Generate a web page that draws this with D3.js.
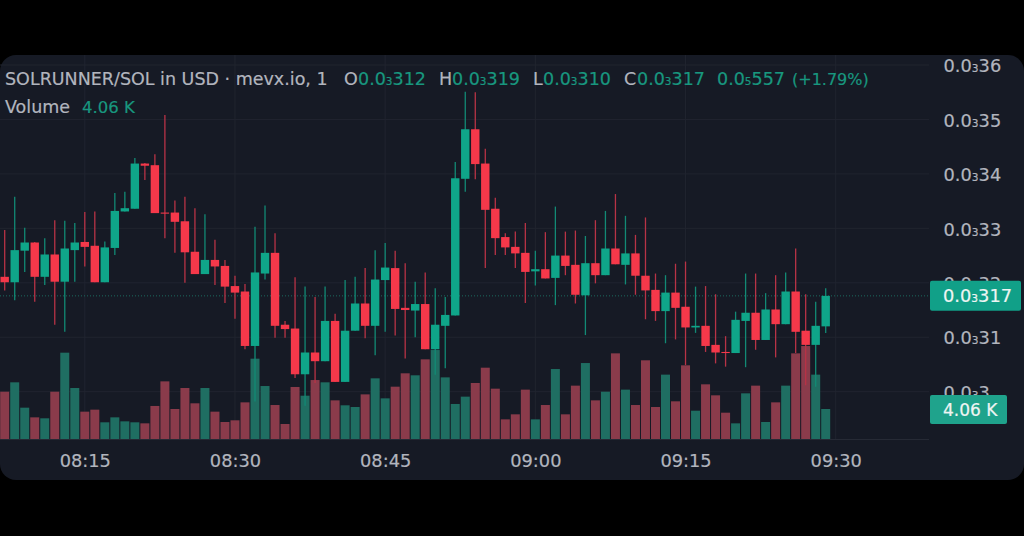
<!DOCTYPE html>
<html>
<head>
<meta charset="utf-8">
<script src="https://cdn.jsdelivr.net/npm/d3@7"></script>
<style>
  html, body { margin: 0; padding: 0; background: #000; }
  svg { display: block; }
  text { font-family: "DejaVu Sans", sans-serif; stroke: currentColor; stroke-width: 0.2px; }
</style>
</head>
<body>
<svg id="chart" width="1024" height="536"></svg>
<script>
// prices are in units of 0.0(3)xxx, so 317 reads 0.0₃317
var firstMinute = "08:07";
var opens = [321.1,320.1,325.9,327.4,321.1,325.2,320.2,326.0,327.5,326.8,320.1,326.4,333.1,333.6,341.9,341.6,332.9,332.9,331.3,325.7,321.6,324.2,323.1,319.4,318.4,308.4,321.7,325.5,312.3,311.6,303.2,307.2,305.6,313.0,301.8,311.2,316.2,312.1,320.5,322.7,315.4,314.9,316.1,307.8,312.1,314.0,339.1,348.2,341.9,333.6,328.4,326.6,325.5,322.1,322.5,320.9,325.0,323.3,317.7,323.6,321.4,326.3,323.3,325.4,321.3,318.7,314.8,318.2,315.6,311.8,312.1,308.6,307.3,307.1,313.0,314.5,309.5,315.1,312.4,318.4,311.2,308.6,312.0];
var highs = [329.7,335.8,330.1,327.5,328.2,331.5,331.4,331.0,333.0,333.1,327.6,336.5,336.7,342.9,342.0,343.6,350.8,335.1,335.8,333.7,332.6,327.9,324.2,321.3,319.8,330.3,334.2,329.1,313.0,321.0,319.3,317.4,319.3,314.3,320.5,321.1,322.7,326.0,327.3,325.9,323.6,320.2,321.9,319.0,317.4,342.2,355.1,355.0,344.6,335.6,329.1,329.4,331.0,325.9,329.3,334.0,329.4,329.6,328.6,331.5,333.2,336.3,332.3,328.8,332.0,321.7,321.4,323.5,323.9,319.3,319.4,317.9,310.2,314.7,321.7,321.7,318.1,321.4,321.9,326.3,317.9,316.5,319.0];
var lows = [318.6,316.8,322.0,316.5,319.6,312.3,311.0,320.2,323.0,320.1,320.1,325.1,333.1,333.6,338.9,332.8,328.2,325.5,320.0,321.6,321.6,319.6,316.3,313.4,307.8,298.2,320.6,309.9,309.9,302.5,297.4,301.6,305.6,301.8,301.8,311.2,309.8,306.7,311.0,310.3,306.1,310.0,307.8,303.1,304.3,314.0,336.7,339.0,322.7,325.1,325.1,322.7,316.3,319.5,320.8,315.9,321.4,316.2,310.4,319.9,321.4,323.4,319.7,317.8,313.3,313.0,308.9,309.6,304.9,310.8,307.3,305.2,304.6,307.1,304.5,307.7,309.5,306.3,312.4,307.1,301.2,300.9,310.8];
var closes = [320.1,326.0,327.4,321.1,325.2,320.2,326.3,327.4,326.6,320.1,326.5,333.2,333.7,341.9,341.5,332.8,332.7,331.2,325.6,321.6,324.2,323.0,319.3,318.2,308.4,321.9,325.5,312.1,311.5,303.2,307.2,305.6,313.0,301.8,311.2,316.2,312.1,320.6,322.8,315.2,315.0,316.1,307.8,312.3,314.1,339.2,348.2,341.8,333.4,328.2,326.5,325.4,322.0,322.5,320.8,325.0,323.1,317.8,323.6,321.4,326.3,323.4,325.4,321.3,318.6,314.8,318.2,315.4,311.8,312.1,308.4,307.2,307.1,313.2,314.5,309.5,315.1,312.4,318.4,311.0,308.6,312.1,317.6];
// volume in thousands
var volumes = [6.40,7.67,4.24,2.93,2.80,6.40,11.68,6.90,3.70,3.97,2.26,2.93,2.39,2.26,2.12,4.47,7.80,4.06,6.90,4.83,6.90,3.70,2.30,2.53,4.96,10.87,7.17,4.60,2.03,7.04,5.86,7.98,7.67,5.23,4.56,4.33,6.04,8.21,5.50,7.08,8.89,8.62,10.78,12.04,8.34,4.74,5.73,7.58,9.65,6.81,2.66,3.34,6.68,2.66,4.60,9.47,3.34,7.22,10.28,5.23,6.40,11.59,6.68,4.60,10.65,4.33,8.71,5.10,9.97,3.83,7.40,5.91,3.56,2.12,6.18,7.22,2.30,4.96,7.22,11.59,12.58,8.71,4.06];

var timeTicks = ["08:15","08:30","08:45","09:00","09:15","09:30"];
var priceTicks = [300,310,320,330,340,350,360];
var priceTickLabels = ["3","31","32","33","34","35","36"];

var upColor = "#0fa589", downColor = "#f5384a",
    upVol = "#1f6e62", downVol = "#8a3b4b",
    gridColor = "#20242f", textColor = "#b2b5be", greenText = "#18977f",
    panelColor = "#161a25", fontSize = 17.8;

var svg = d3.select("#chart"),
    plotRight = 929, axisY = 439.5;

svg.append("rect").attr("x", 0).attr("y", 0).attr("width", 1024).attr("height", 536).attr("fill", "#000");
svg.append("rect").attr("x", 0).attr("y", 55).attr("width", 1024).attr("height", 425).attr("rx", 16).attr("fill", panelColor);

var parseMin = d3.timeParse("%H:%M"),
    start = parseMin(firstMinute),
    times = opens.map(function(d, i) { return d3.timeMinute.offset(start, i); });

var x = d3.scaleTime()
    .domain([times[0], times[times.length - 1]])
    .range([4.7, 825.7]);

var y = d3.scaleLinear().domain([300, 360]).range([391.7, 65]);

var yVol = d3.scaleLinear().domain([0, 13]).range([439, 439 - 7.39 * 13]);

// grid
var xAxis = d3.axisBottom(x)
    .tickValues(timeTicks.map(parseMin))
    .tickFormat(d3.timeFormat("%H:%M"))
    .tickSize(0).tickPadding(15);

svg.append("g").selectAll("line")
    .data(timeTicks.map(parseMin))
    .enter().append("line")
    .attr("x1", function(d) { return x(d); })
    .attr("x2", function(d) { return x(d); })
    .attr("y1", 55).attr("y2", axisY)
    .attr("stroke", gridColor);

svg.append("g").selectAll("line")
    .data(priceTicks)
    .enter().append("line")
    .attr("x1", 0).attr("x2", plotRight)
    .attr("y1", function(d) { return y(d); })
    .attr("y2", function(d) { return y(d); })
    .attr("stroke", gridColor);

svg.append("line").attr("x1", 0).attr("x2", plotRight).attr("y1", axisY).attr("y2", axisY).attr("stroke", "#262a35");

// volume bars
svg.append("g").selectAll("rect")
    .data(volumes)
    .enter().append("rect")
    .attr("x", function(d, i) { return x(times[i]) - 4.5; })
    .attr("width", 9)
    .attr("y", function(d) { return yVol(d); })
    .attr("height", function(d) { return yVol(0) - yVol(d); })
    .attr("fill", function(d, i) { return closes[i] >= opens[i] ? upVol : downVol; });

// last price line
svg.append("line")
    .attr("x1", 0).attr("x2", plotRight)
    .attr("y1", y(closes[closes.length - 1])).attr("y2", y(closes[closes.length - 1]))
    .attr("stroke", "#1c6b5e").attr("stroke-dasharray", "1 2");

// candles
var candle = svg.append("g").selectAll("g")
    .data(opens)
    .enter().append("g");

candle.append("line")
    .attr("x1", function(d, i) { return x(times[i]); })
    .attr("x2", function(d, i) { return x(times[i]); })
    .attr("y1", function(d, i) { return y(highs[i]); })
    .attr("y2", function(d, i) { return y(lows[i]); })
    .attr("stroke-width", 1.3)
    .attr("stroke", function(d, i) { return closes[i] >= opens[i] ? "#128a75" : "#b83346"; });

candle.append("rect")
    .attr("x", function(d, i) { return x(times[i]) - 4.2; })
    .attr("width", 8.4)
    .attr("y", function(d, i) { return y(Math.max(opens[i], closes[i])); })
    .attr("height", function(d, i) { return Math.max(1, Math.abs(y(opens[i]) - y(closes[i]))); })
    .attr("fill", function(d, i) { return closes[i] >= opens[i] ? upColor : downColor; });

// writes a number like 0.0₃317 with the small zero count
function subPrice(sel, count, digits) {
  sel.text(null);
  sel.append("tspan").text("0.0");
  sel.append("tspan").attr("font-size", "0.6em").text(count);
  sel.append("tspan").text(digits);
}

// price axis
var yAxis = d3.axisRight(y).tickValues(priceTicks).tickSize(0).tickPadding(0);
var gy = svg.append("g")
    .attr("transform", "translate(943.5,1)")
    .call(yAxis);
gy.select(".domain").remove();
gy.selectAll("text")
    .attr("fill", textColor).attr("color", textColor).attr("font-size", fontSize).attr("font-family", "'DejaVu Sans', sans-serif")
    .each(function(d, i) { subPrice(d3.select(this), "3", priceTickLabels[i]); });

// time axis
var gx = svg.append("g")
    .attr("transform", "translate(0," + axisY + ")")
    .call(xAxis);
gx.select(".domain").remove();
gx.selectAll("text")
    .attr("fill", textColor).attr("color", textColor).attr("font-size", fontSize).attr("font-family", "'DejaVu Sans', sans-serif");

// badges on the price scale
var lastY = y(closes[closes.length - 1]);
svg.append("rect").attr("x", 930).attr("y", lastY - 15).attr("width", 91).attr("height", 30).attr("rx", 2).attr("fill", "#11a088");
svg.append("text").attr("x", 943).attr("y", lastY + 6.5).attr("fill", "#eef5f3").attr("color", "#eef5f3").attr("font-size", fontSize)
    .call(subPrice, "3", "317");

svg.append("rect").attr("x", 930).attr("y", 395).attr("width", 77).attr("height", 29).attr("rx", 2).attr("fill", "#1fa38c");
svg.append("text").attr("x", 943).attr("y", 416).attr("fill", "#eef5f3").attr("color", "#eef5f3").attr("font-size", 17)
    .text("4.06 K");

// legend
var legend = svg.append("g").attr("font-size", 17.5);
function legendText(px, py, col) {
  return legend.append("text").attr("x", px).attr("y", py).attr("fill", col).attr("color", col);
}
legendText(5, 85, textColor).text("SOLRUNNER/SOL in USD · mevx.io, 1");

var ohlc = [["O", 344, 358, "312"], ["H", 439, 452, "319"], ["L", 533, 543, "310"], ["C", 624, 637, "317"]];
ohlc.forEach(function(d) {
  legendText(d[1], 85, textColor).text(d[0]);
  legendText(d[2], 85, greenText).call(subPrice, "3", d[3]);
});
legendText(717, 85, greenText).call(subPrice, "5", "557");
legendText(792, 85, greenText).attr("font-size", 16).text("(+1.79%)");

legendText(5, 113, textColor).text("Volume");
legendText(82, 113, greenText).attr("font-size", 16.5).text("4.06 K");
</script>
</body>
</html>
